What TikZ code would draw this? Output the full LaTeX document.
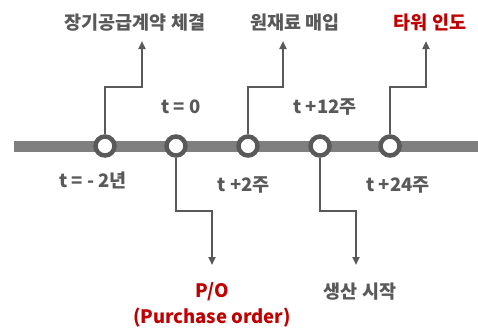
\documentclass[tikz,border=0pt]{standalone}
\usepackage{fontspec}
\setmainfont{Noto Sans CJK KR}
\usetikzlibrary{arrows.meta}
\definecolor{dk}{HTML}{595959}
\definecolor{barc}{HTML}{7F7F7F}
\definecolor{rd}{HTML}{C00000}
\begin{document}
\begin{tikzpicture}[x=1pt,y=-1pt,
  ev/.style={circle,draw=dk,line width=4.5pt,fill=white,minimum size=19pt,inner sep=0pt},
  arr/.style={draw=dk,line width=2pt,-{Triangle[length=8pt,width=7pt]}},
  lab/.style={font=\fontsize{18.5}{26}\selectfont\bfseries,text=dk,inner sep=0pt},
  rlab/.style={lab,text=rd}]
\useasboundingbox (0,0) rectangle (478,327);
\coordinate (bs) at (14,146);
\coordinate (be) at (478,146);
\draw[barc,line width=11pt] (bs) -- (be);
\node[ev] (c1) at (105,146) {};
\node[ev] (c2) at (176,146) {};
\node[ev] (c3) at (248,146) {};
\node[ev] (c4) at (320,146) {};
\node[ev] (c5) at (390,146) {};
% up arrows
\coordinate (b1) at (105,87); \coordinate (e1) at (142,41);
\coordinate (b3) at (248,87); \coordinate (e3) at (283,41);
\coordinate (b5) at (390,87); \coordinate (e5) at (426,41);
\draw[arr] (c1.north) -- (b1) -| (e1);
\draw[arr] (c3.north) -- (b3) -| (e3);
\draw[arr] (c5.north) -- (b5) -| (e5);
% down arrows
\coordinate (b2) at (176,211); \coordinate (e2) at (212,265);
\coordinate (b4) at (320,211); \coordinate (e4) at (356,265);
\draw[arr] (c2.south) -- (b2) -| (e2);
\draw[arr] (c4.south) -- (b4) -| (e4);
% event labels
\node[lab] (l1) at (135,23) {장기공급계약 체결};
\node[lab] (l3) at (295,23) {원재료 매입};
\node[rlab] (l5) at (430,23) {타워 인도};
\node[rlab,align=center] (l2) at (212,305) {P/O\\(Purchase order)};
\node[lab] (l4) at (360,292) {생산 시작};
% time labels
\node[lab] (t2) at (181,107) {t = 0};
\node[lab] (t4) at (325,107) {t +12주};
\node[lab] (t1) at (93,180) {t = - 2년};
\node[lab] (t3) at (244,185) {t +2주};
\node[lab] (t5) at (398,185) {t +24주};
\end{tikzpicture}
\end{document}
